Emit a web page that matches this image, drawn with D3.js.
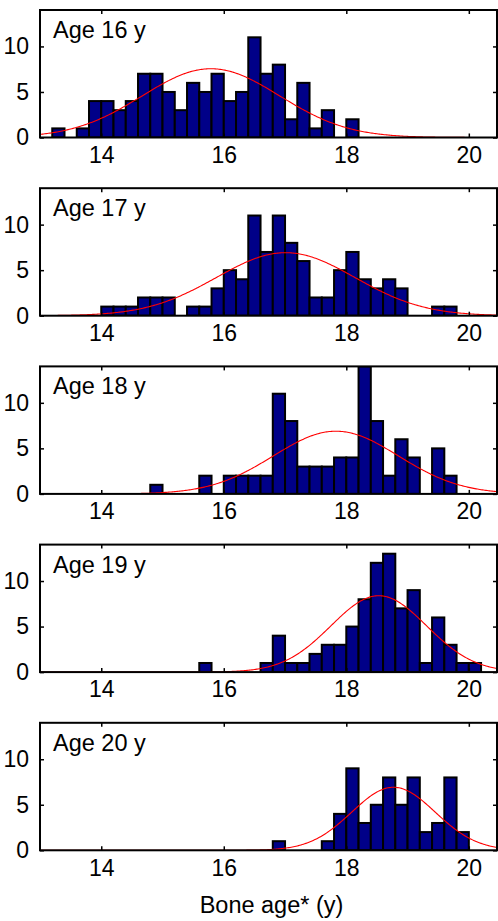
<!DOCTYPE html>
<html>
<head>
<meta charset="utf-8">
<script src="https://cdn.jsdelivr.net/npm/d3@7"></script>
<style>
  html, body { margin: 0; padding: 0; background: #fff; }
  svg { display: block; }
  text { font-family: "Liberation Sans", Arial, Helvetica, sans-serif; fill: #000; }
</style>
</head>
<body>
<script>
// ---------------- DATA ----------------
const panelTitles = ["Age 16 y", "Age 17 y", "Age 18 y", "Age 19 y", "Age 20 y"];
const binWidth = 0.2;
const binStarts = [13.2, 13.4, 13.6, 13.8, 14.0, 14.2, 14.4, 14.6, 14.8, 15.0,
                   15.2, 15.4, 15.6, 15.8, 16.0, 16.2, 16.4, 16.6, 16.8, 17.0,
                   17.2, 17.4, 17.6, 17.8, 18.0, 18.2, 18.4, 18.6, 18.8, 19.0,
                   19.2, 19.4, 19.6, 19.8, 20.0];
const countsAge16 = [1,0,1,4,4,3,4,7,7,5, 3,6,5,7,4,5,11,7,8,2, 6,1,3,0,2,0,0,0,0,0, 0,0,0,0,0];
const countsAge17 = [0,0,0,0,1,1,1,2,2,2, 0,1,1,3,5,4,11,7,11,8, 6,2,2,5,7,4,3,4,3,0, 0,1,1,0,0];
const countsAge18 = [0,0,0,0,0,0,0,0,1,0, 0,0,2,0,2,2,2,2,11,8, 3,3,3,4,4,14,8,2,6,4, 0,5,2,0,0];
const countsAge19 = [0,0,0,0,0,0,0,0,0,0, 0,0,1,0,0,0,0,1,4,1, 1,2,3,3,5,8,12,13,7,9, 1,6,3,1,1];
const countsAge20 = [0,0,0,0,0,0,0,0,0,0, 0,0,0,0,0,0,0,0,1,0, 0,0,1,4,9,3,5,8,5,8, 2,3,8,2,0];
const allCounts = [countsAge16, countsAge17, countsAge18, countsAge19, countsAge20];
// fitted normal curves (mean, sd)
const fitMeans = [15.79, 17.01, 17.83, 18.53, 18.77];
const fitSds   = [1.12, 1.13, 1.02, 0.78, 0.68];
const xTicks = [14, 16, 18, 20];
const yTicks = [0, 5, 10];
const xDomain = [13, 20.46];
const yDomain = [0, 14];
const xLabel = "Bone age* (y)";

// ---------------- LAYOUT ----------------
const W = 498, H = 921;
const left = 40, right = 497;
const firstTop = 10, step = 178.2, ph = 127.5;
const FONT = "'Liberation Sans', Arial, Helvetica, sans-serif";

const svg = d3.select("body").append("svg").attr("width", W).attr("height", H);
const x = d3.scaleLinear().domain(xDomain).range([left, right]);

panelTitles.forEach((title, p) => {
  const top = firstTop + p * step;
  const bottom = top + ph;
  const y = d3.scaleLinear().domain(yDomain).range([bottom, top]);
  const g = svg.append("g");

  const clipId = "clip" + p;
  g.append("clipPath").attr("id", clipId)
    .append("rect").attr("x", left).attr("y", top).attr("width", right - left).attr("height", ph);

  const counts = allCounts[p];
  const bins = binStarts.map((s, i) => ({ s, c: counts[i] })).filter(d => d.c > 0);

  const plot = g.append("g").attr("clip-path", `url(#${clipId})`);
  plot.selectAll("rect.bar").data(bins).enter().append("rect")
    .attr("class", "bar")
    .attr("x", d => x(d.s))
    .attr("width", d => x(d.s + binWidth) - x(d.s))
    .attr("y", d => y(d.c))
    .attr("height", d => y(0) - y(d.c))
    .attr("fill", "#000088")
    .attr("stroke", "#000")
    .attr("stroke-width", 2);

  // fitted normal curve scaled to counts
  const N = d3.sum(counts);
  const mu = fitMeans[p], sd = fitSds[p];
  const xs = d3.range(xDomain[0], xDomain[1] + 0.001, 0.02);
  const pts = xs.map(v => [v, N * binWidth / (sd * Math.sqrt(2 * Math.PI)) * Math.exp(-0.5 * ((v - mu) / sd) ** 2)]);
  plot.append("path")
    .attr("d", d3.line().x(d => x(d[0])).y(d => y(d[1]))(pts))
    .attr("fill", "none")
    .attr("stroke", "#ff0000")
    .attr("stroke-width", 1.1);

  // axes (MATLAB style: inward ticks on all sides)
  const fs = 23;
  g.append("g").attr("transform", `translate(0,${bottom})`)
    .call(d3.axisBottom(x).tickValues(xTicks).tickSize(-4).tickPadding(9).tickFormat(d3.format("d")))
    .call(a => { a.select(".domain").remove(); a.selectAll("line").attr("stroke-width", 1.5);
                 a.selectAll("text").attr("font-size", fs).style("font-family", FONT); });
  g.append("g").attr("transform", `translate(0,${top})`)
    .call(d3.axisTop(x).tickValues(xTicks).tickSize(-4).tickFormat(""))
    .call(a => { a.select(".domain").remove(); a.selectAll("line").attr("stroke-width", 1.5); });
  g.append("g").attr("transform", `translate(${left},0)`)
    .call(d3.axisLeft(y).tickValues(yTicks).tickSize(-4).tickPadding(11).tickFormat(d3.format("d")))
    .call(a => { a.select(".domain").remove(); a.selectAll("line").attr("stroke-width", 1.5);
                 a.selectAll("text").attr("font-size", fs).style("font-family", FONT); });
  g.append("g").attr("transform", `translate(${right},0)`)
    .call(d3.axisRight(y).tickValues(yTicks).tickSize(-4).tickFormat(""))
    .call(a => { a.select(".domain").remove(); a.selectAll("line").attr("stroke-width", 1.5); });

  g.append("rect").attr("x", left).attr("y", top).attr("width", right - left).attr("height", ph)
    .attr("fill", "none").attr("stroke", "#000").attr("stroke-width", 2);

  g.append("text").attr("x", left + 13).attr("y", top + 28)
    .attr("font-size", 23.5).text(title);
});

svg.append("text").attr("x", (left + right) / 2 + 3).attr("y", 913)
  .attr("text-anchor", "middle").attr("font-size", 23.5).text(xLabel);
</script>
</body>
</html>
